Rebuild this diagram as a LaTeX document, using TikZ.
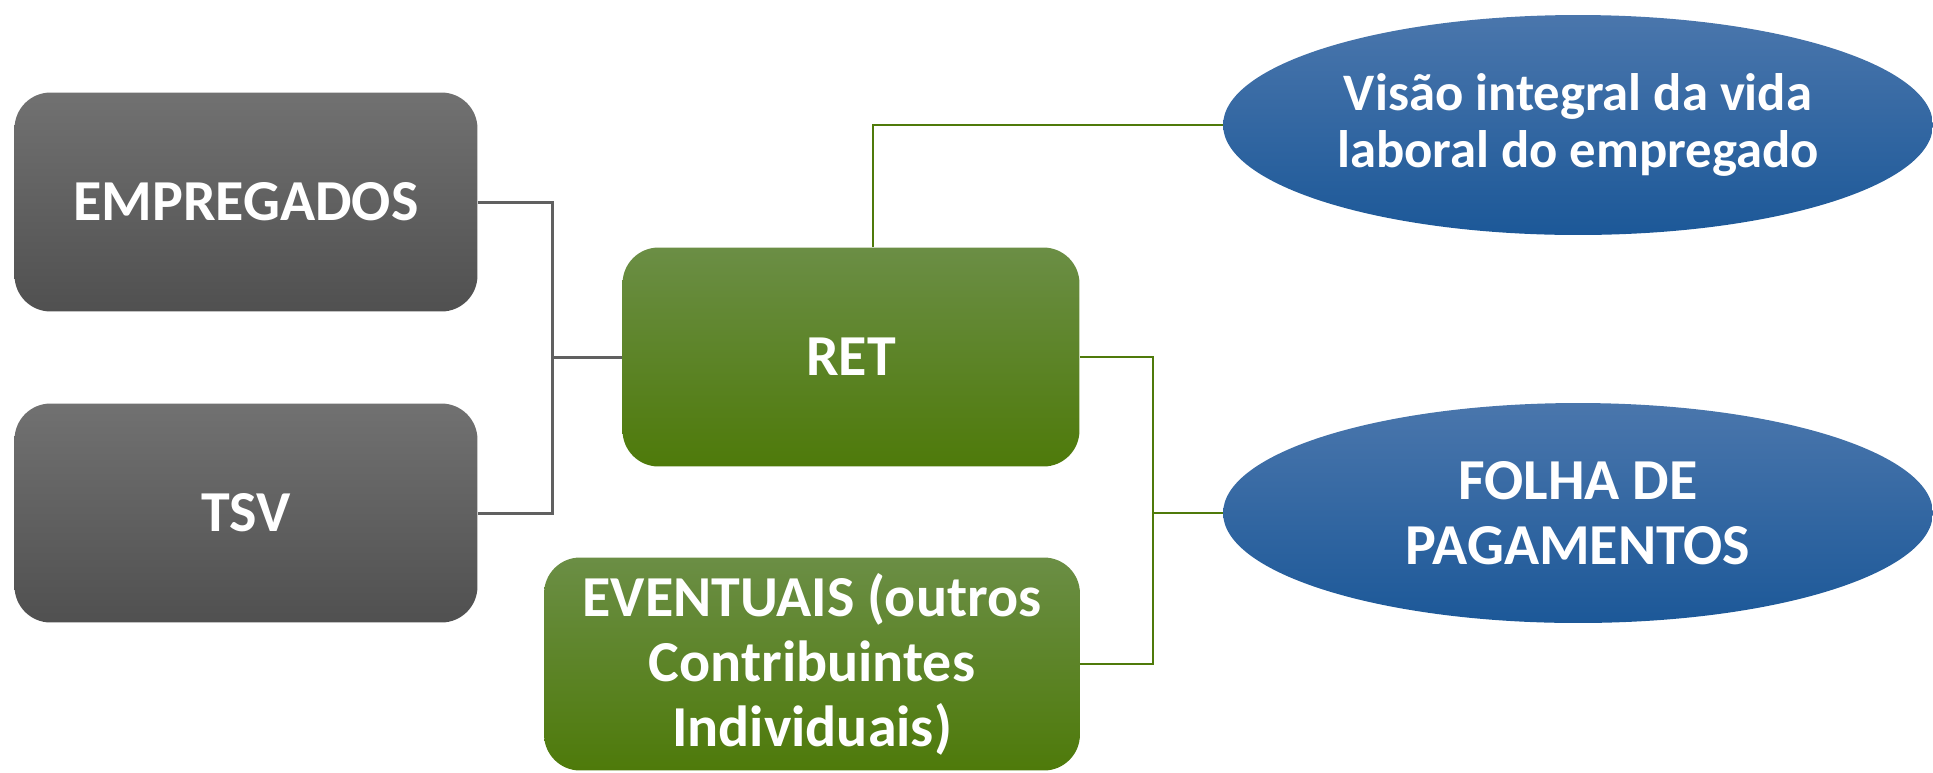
\documentclass[tikz,border=0pt]{standalone}
\usepackage{fontspec}
\setmainfont{Carlito}
\usetikzlibrary{shapes.geometric}
\usepackage{xcolor}

\definecolor{graytop}{HTML}{717171}
\definecolor{graybot}{HTML}{505050}
\definecolor{greentop}{HTML}{6B8E45}
\definecolor{greenbot}{HTML}{4E7A0A}
\definecolor{bluetop}{HTML}{4A76AC}
\definecolor{bluebot}{HTML}{1C5898}
\definecolor{grayline}{HTML}{606060}
\definecolor{greenline}{HTML}{4F7A0A}

\tikzset{
    box/.style={rectangle, rounded corners=0.72cm, inner sep=0pt, align=center,
        text=white, font=\bfseries\fontsize{33}{37}\selectfont,
        minimum height=4.38cm},
    graybox/.style={box, top color=graytop, bottom color=graybot, minimum width=9.26cm},
    greenbox/.style={box, top color=greentop, bottom color=greenbot},
    bluebubble/.style={ellipse, inner sep=0pt, align=center, text=white,
        top color=bluetop, bottom color=bluebot,
        font=\bfseries\fontsize{33}{37}\selectfont,
        minimum width=14.2cm, minimum height=4.4cm},
    graylink/.style={draw=grayline, line width=1.7pt},
    greenlink/.style={draw=greenline, line width=1.6pt}
}

\begin{document}
\begin{tikzpicture}[x=0.02cm, y=-0.02cm]
        % Fix the page size
        \useasboundingbox (0,0) rectangle (1933,772);
        % Draw the left boxes
        \node[graybox] (emp) at (246,202) {EMPREGADOS};
        \node[graybox] (tsv) at (246,513) {TSV};
        % Draw the middle boxes
        \node[greenbox, minimum width=9.14cm] (ret) at (851,357) {RET};
        \node[greenbox, minimum width=10.72cm, minimum height=4.26cm] (eve) at (812,664)
            {EVENTUAIS (outros\\Contribuintes\\Individuais)};
        % Draw the ellipses
        \node[bluebubble, font=\bfseries\fontsize{30}{32}\selectfont] (vis) at (1578,125)
            {Visão integral da vida\\laboral do empregado};
        \node[bluebubble] (fol) at (1578,513) {FOLHA DE\\PAGAMENTOS};
        % Junction points
        \coordinate (jl) at (552,357);
        \coordinate (jt) at (873,125);
        \coordinate (jr) at (1153,513);
        % Draw gray connectors
        \draw[graylink] (emp.east) -| (jl) |- (tsv.east);
        \draw[graylink] (jl) -- (ret.west);
        % Draw green connectors
        \draw[greenlink] (ret.north -| jt) -- (jt) -- (vis.west);
        \draw[greenlink] (ret.east) -| (jr) |- (eve.east);
        \draw[greenlink] (jr) -- (fol.west);
    \end{tikzpicture}
\end{document}
